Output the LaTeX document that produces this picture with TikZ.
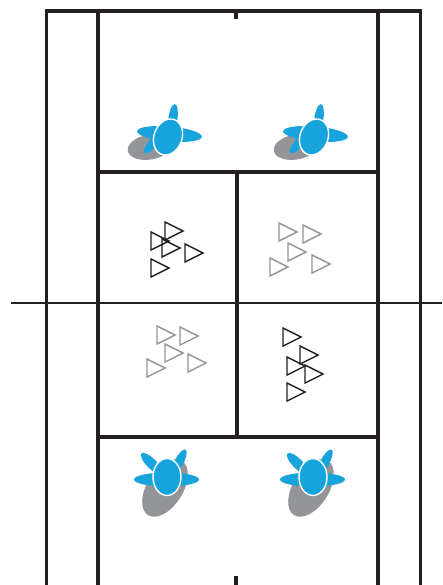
\documentclass[tikz,border=0pt]{standalone}
\usepackage{xcolor}
\definecolor{ink}{HTML}{231F20}
\definecolor{bodyblue}{HTML}{17A3DC}
\definecolor{shadowgray}{HTML}{939598}
\newcommand{\limb}[4]{\fill[bodyblue, rotate around={#4:#1}] #1 ellipse [x radius=#2pt, y radius=#3pt];}

\begin{document}
\begin{tikzpicture}[x=1pt, y=-1pt, line join=miter,
    court/.style={ink, line width=3.2pt},
    net/.style={ink, line width=1.5pt},
    shade/.style={fill=shadowgray},
    torso/.style={fill=bodyblue, draw=white, line width=1.4pt},
    markblack/.style={draw=ink, line width=1.35pt},
    markgray/.style={draw=shadowgray, line width=1.35pt},
    playertop/.pic={
      \fill[shade, rotate around={10:(150,147)}] (150,147) ellipse [x radius=22.5pt, y radius=12.5pt];
      \limb{(173,118)}{4.5}{14}{-8}
      \limb{(153,143)}{4.5}{13}{-40}
      \limb{(169.5,134)}{32.5}{7.5}{-5}
      \draw[torso, rotate around={-20:(168,137)}] (168,137) ellipse [x radius=14pt, y radius=18.5pt];
    },
    playerbot/.pic={
      \fill[shade, rotate around={-32:(165,488)}] (165,488) ellipse [x radius=18pt, y radius=32pt];
      \limb{(152,464)}{5}{15}{45}
      \limb{(179,462)}{4.5}{14}{-28}
      \limb{(166.5,479.5)}{32.5}{7}{0}
      \draw[torso] (167,477) ellipse [x radius=14pt, y radius=18.5pt];
    }]
  \useasboundingbox (0,0) rectangle (442,585);
  \fill[white] (0,0) rectangle (442,585);
  % court lines
  \draw[court] (46.5,585) -- (46.5,11) -- (420.5,11) -- (420.5,585);
  \draw[court] (98,11) -- (98,585);
  \draw[court] (378,11) -- (378,585);
  \draw[court] (98,172) -- (378,172);
  \draw[court] (98,437) -- (378,437);
  \draw[court] (237,172) -- (237,437);
  \draw[court] (236,11) -- (236,19);
  \draw[court] (236,576) -- (236,585);
  \draw[net] (11,303) -- (442,303);
  % players
  \foreach \dx in {0,146} {
    \pic at (\dx,0) {playertop};
    \pic at (\dx,0) {playerbot};
  }
  % markers
  \foreach \mx/\my in {165/231, 151/241, 162/248, 185/253, 151/268,
                       283/337, 300/355, 287/366, 305/374, 287/392}
    \draw[markblack] (\mx,\my-9) -- (\mx+18,\my) -- (\mx,\my+9) -- cycle;
  \foreach \mx/\my in {279/232, 303/234, 288/252, 312/264, 270/267,
                       157/335, 180/336, 165/353, 188/363, 147/368}
    \draw[markgray] (\mx,\my-9) -- (\mx+18,\my) -- (\mx,\my+9) -- cycle;
\end{tikzpicture}
\end{document}
